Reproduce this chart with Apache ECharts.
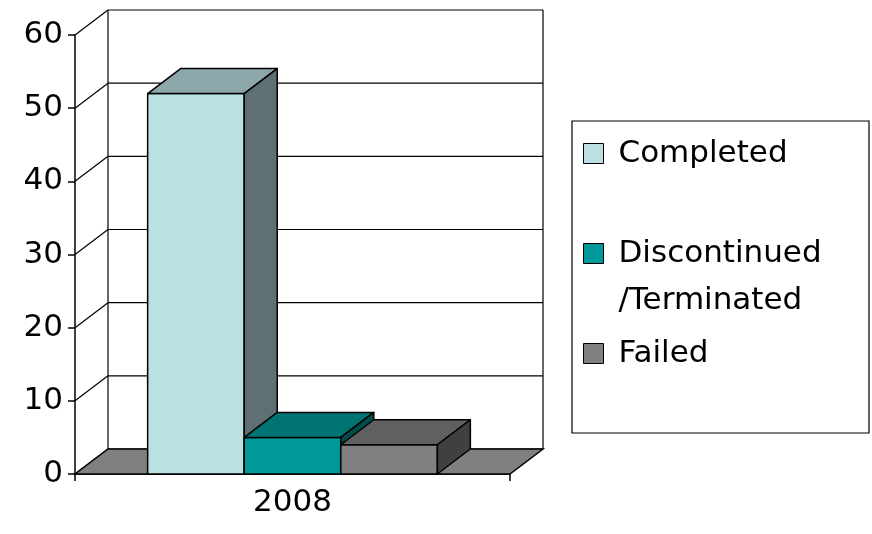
<!DOCTYPE html>
<html>
<head>
<meta charset="utf-8">
<script src="https://cdn.jsdelivr.net/npm/echarts@6/dist/echarts.min.js"></script>
<style>
  html, body { margin: 0; padding: 0; background: #fff; }
  #main { width: 872px; height: 534px; }
</style>
</head>
<body>
<div id="main"></div>
<script>
// data
var categories = ['2008']
var seriesNames = ['Completed', 'Discontinued/Terminated', 'Failed']
var completed = [52]
var discontinued = [5]
var failed = [4]
var yTicks = [0, 10, 20, 30, 40, 50, 60]

// fake 3d depth of the plot (pixels)
var DX = 33
var DY = -25
var FONT = 'DejaVu Sans'
var LW = 1.5

// front, top, side colours per series
var palette = [
  ['#BBE0E3', '#8CA8AA', '#5E7072'],
  ['#009999', '#007373', '#004D4D'],
  ['#808080', '#606060', '#404040']
]

function line(x1, y1, x2, y2) {
  return {
    type: 'line',
    shape: { x1: x1, y1: y1, x2: x2, y2: y2 },
    style: { stroke: '#000', lineWidth: 1.2 }
  }
}

// back wall gridlines + the slanted lines on the left side wall
function renderWall(params, api) {
  var cs = params.coordSys
  var y = api.coord([0, api.value(1)])[1]
  var x0 = cs.x
  var x1 = cs.x + cs.width
  var children = [
    line(x0, y, x0 + DX, y + DY),
    line(x0 + DX, y + DY, x1 + DX, y + DY)
  ]
  if (params.dataIndex === 0) {
    children.push(line(x0 + DX, cs.y + DY, x0 + DX, cs.y + cs.height + DY))
    children.push(line(x1 + DX, cs.y + DY, x1 + DX, cs.y + cs.height + DY))
  }
  return { type: 'group', children: children }
}

function renderFloor(params, api) {
  var cs = params.coordSys
  var y0 = api.coord([0, 0])[1]
  var x0 = cs.x
  var x1 = cs.x + cs.width
  return {
    type: 'polygon',
    shape: {
      points: [[x0, y0], [x0 + DX, y0 + DY], [x1 + DX, y0 + DY], [x1, y0]]
    },
    style: { fill: '#808080', stroke: '#000', lineWidth: LW }
  }
}

function makeBar(name, values, idx) {
  var cols = palette[idx]
  return {
    name: name,
    type: 'custom',
    itemStyle: { color: cols[0], borderColor: '#000', borderWidth: 1 },
    encode: { x: 0, y: 1 },
    data: values.map(function (v, i) { return [i, v] }),
    renderItem: function (params, api) {
      var cat = api.value(0)
      var top = api.coord([cat, api.value(1)])
      var y0 = api.coord([cat, 0])[1]
      var bw = api.size([1, 0])[0] * 0.222
      var l = top[0] - 1.5 * bw + idx * bw
      var r = l + bw
      var yt = top[1]
      var stroke = { stroke: '#000', lineWidth: LW, lineJoin: 'round' }
      return {
        type: 'group',
        children: [
          {
            type: 'rect',
            shape: { x: l, y: yt, width: bw, height: y0 - yt },
            style: Object.assign({ fill: cols[0] }, stroke)
          },
          {
            type: 'polygon',
            shape: { points: [[l, yt], [l + DX, yt + DY], [r + DX, yt + DY], [r, yt]] },
            style: Object.assign({ fill: cols[1] }, stroke)
          },
          {
            type: 'polygon',
            shape: { points: [[r, yt], [r + DX, yt + DY], [r + DX, y0 + DY], [r, y0]] },
            style: Object.assign({ fill: cols[2] }, stroke)
          }
        ]
      }
    }
  }
}

var myChart = echarts.init(document.getElementById('main'))

var option = {
  animation: false,
  backgroundColor: '#fff',
  grid: { left: 75, top: 35, width: 435, height: 439 },
  xAxis: {
    type: 'category',
    data: categories,
    boundaryGap: true,
    axisLine: { lineStyle: { color: '#000', width: LW } },
    axisTick: { show: true, length: 7, lineStyle: { color: '#000', width: LW } },
    axisLabel: { color: '#000', fontSize: 31, fontFamily: FONT, margin: 13 },
    splitLine: { show: false }
  },
  yAxis: {
    type: 'value',
    min: 0,
    max: 60,
    interval: 10,
    axisLine: { show: true, lineStyle: { color: '#000', width: LW } },
    axisTick: { show: true, length: 7, lineStyle: { color: '#000', width: LW } },
    axisLabel: { color: '#000', fontSize: 31, fontFamily: FONT, margin: 12 },
    splitLine: { show: false }
  },
  legend: {
    orient: 'vertical',
    left: 583,
    top: 130,
    padding: 0,
    itemGap: 6,
    itemWidth: 20,
    itemHeight: 20,
    icon: 'rect',
    itemStyle: { borderColor: '#000', borderWidth: 1 },
    data: seriesNames,
    formatter: function (name) {
      // blank first line keeps the icon level with the first text line
      if (name === 'Discontinued/Terminated') return '\nDiscontinued\n/Terminated'
      return name
    },
    textStyle: {
      color: '#000',
      fontSize: 31,
      fontFamily: FONT,
      lineHeight: 47,
      padding: [0, 0, 0, 10]
    }
  },
  graphic: [
    {
      type: 'rect',
      shape: { x: 572, y: 121, width: 297, height: 312 },
      style: { fill: 'none', stroke: '#000', lineWidth: 1.2 },
      z: 100
    }
  ],
  series: [
    {
      type: 'custom',
      silent: true,
      renderItem: renderWall,
      encode: { x: 0, y: 1 },
      data: yTicks.map(function (v) { return [0, v] })
    },
    {
      type: 'custom',
      silent: true,
      renderItem: renderFloor,
      encode: { x: 0, y: 1 },
      data: [[0, 0]]
    },
    makeBar(seriesNames[0], completed, 0),
    makeBar(seriesNames[1], discontinued, 1),
    makeBar(seriesNames[2], failed, 2)
  ]
}

myChart.setOption(option)
</script>
</body>
</html>
